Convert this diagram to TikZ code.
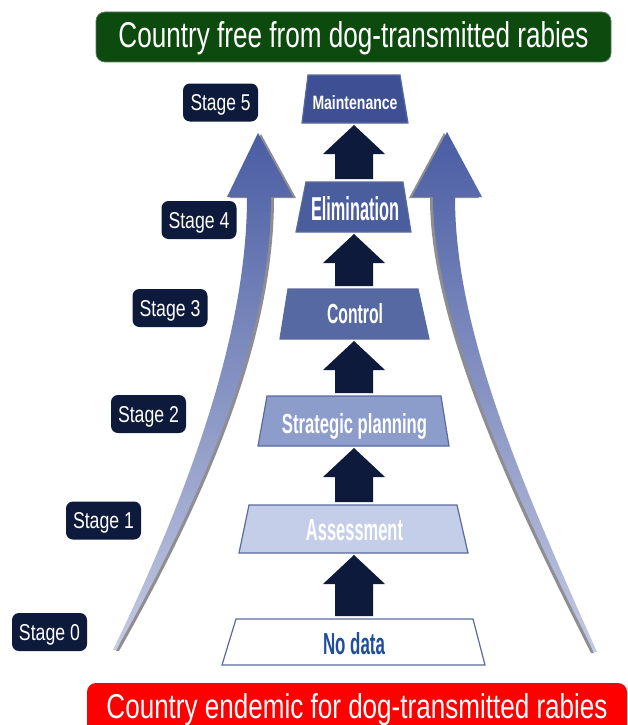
\documentclass[tikz,border=0pt]{standalone}
\usepackage{fontspec}
\setmainfont{Liberation Sans}
\usepackage{graphicx}
\usetikzlibrary{calc}
\definecolor{bgreen}{HTML}{0D4A0E}
\definecolor{bgreenedge}{HTML}{5E7F5E}
\definecolor{bred}{HTML}{FF0000}
\definecolor{navy}{HTML}{0E1A3B}
\definecolor{tmaint}{HTML}{3E4F93}
\definecolor{telim}{HTML}{4A5D9C}
\definecolor{tcont}{HTML}{5769A2}
\definecolor{tstrat}{HTML}{8D9DCB}
\definecolor{tassess}{HTML}{C5CEE8}
\definecolor{tborder}{HTML}{5B6A9E}
\definecolor{ndtext}{HTML}{1F4E9C}
\definecolor{arrtop}{HTML}{4A5DA3}
\definecolor{arrmid}{HTML}{6878B6}
\definecolor{arrbot}{HTML}{C4CAE2}
\definecolor{arrshadow}{HTML}{8E8E92}

\newcommand{\fitto}[3]{\resizebox{#1}{#2}{#3}}
\newcommand{\leftcurve}{(113,650) .. controls (200,470) and (247,320) .. (247,197) -- (227,197) -- (258,133) -- (293,197) -- (271,197) .. controls (271,330) and (212,480) .. (116,650) -- cycle}
\newcommand{\rightcurve}{(594,652) .. controls (512,490) and (433,320) .. (433,197) -- (412,197) -- (447,132) -- (482,197) -- (455,197) .. controls (455,330) and (520,480) .. (597,652) -- cycle}
\newcommand{\blockarr}[2]{\fill[navy] let \p1=(#1), \p2=(#2) in (\x2-19pt,\y1+3pt) -- (\x2-19pt,\y2-31pt) -- (\x2-31pt,\y2-31pt) -- (\x2,\y2-2pt) -- (\x2+31pt,\y2-31pt) -- (\x2+19pt,\y2-31pt) -- (\x2+19pt,\y1+3pt) -- cycle;}

\begin{document}
\begin{tikzpicture}[x=1pt,y=-1pt,
  stagebox/.style={fill=navy, rounded corners=7pt, minimum width=75pt, minimum height=38pt, inner sep=0pt, text=white, text height=16pt, text depth=0pt},
  trap/.style={draw=tborder, line width=1.2pt, line join=miter},
  lbl/.style={inner sep=0pt, text=white, text depth=0pt, font=\bfseries},
]
\clip (0,0) rectangle (627,725);
\fill[white] (0,0) rectangle (627,725);

% banners
\node[fill=bgreen, draw=bgreenedge, line width=0.8pt, rounded corners=9pt, minimum width=515pt, minimum height=50pt, inner sep=0pt, text=white, text height=26pt, text depth=4pt] (free) at (353.5,37) {\fitto{470pt}{26pt}{Country free from dog-transmitted rabies}};
\node[fill=bred, rounded corners=9pt, minimum width=540pt, minimum height=52pt, inner sep=0pt, text=white, text height=25pt, text depth=7pt] (endemic) at (357,709) {\fitto{501pt}{25pt}{Country endemic for dog-transmitted rabies}};

% curved arrows
\begin{scope}[shift={(3,1)}]
\fill[arrshadow] \leftcurve;
\end{scope}
\shade[top color=arrtop, middle color=arrmid, bottom color=arrbot] \leftcurve;
\begin{scope}[shift={(-3,1)}]
\fill[arrshadow] \rightcurve;
\end{scope}
\shade[top color=arrtop, middle color=arrmid, bottom color=arrbot] \rightcurve;

% trapezoids
\draw[trap, fill=tmaint]  (308,75) -- (400,75) -- (408,123) -- (302,123) -- cycle;
\draw[trap, fill=telim]   (306,182) -- (403,182) -- (411,232) -- (296,232) -- cycle;
\draw[trap, fill=tcont]   (288,289) -- (418,289) -- (429,339) -- (280,339) -- cycle;
\draw[trap, fill=tstrat]  (267,396) -- (441,396) -- (449,446) -- (258,446) -- cycle;
\draw[trap, fill=tassess] (249,505) -- (457,505) -- (468,553) -- (239,553) -- cycle;
\draw[trap, fill=white]   (236,619) -- (473,619) -- (485,665) -- (222,665) -- cycle;

\coordinate (ma-b) at (354,123);
\coordinate (el-t) at (354,182);
\coordinate (el-b) at (354,232);
\coordinate (co-t) at (354,289);
\coordinate (co-b) at (354,339);
\coordinate (sp-t) at (354,396);
\coordinate (sp-b) at (354,446);
\coordinate (as-t) at (354,505);
\coordinate (as-b) at (354,553);
\coordinate (nd-t) at (354,619);

\node[lbl, text height=14pt] (lma) at (355,102) {\fitto{85pt}{14pt}{Maintenance}};
\node[lbl, text height=24pt] (lel) at (355,208) {\fitto{88pt}{24pt}{Elimination}};
\node[lbl, text height=20pt] (lco) at (355,313) {\fitto{56pt}{20pt}{Control}};
\node[lbl, text height=20pt] (lsp) at (354.5,423) {\fitto{145pt}{20pt}{Strategic planning}};
\node[lbl, text height=21pt] (las) at (354.5,529.5) {\fitto{97pt}{21pt}{Assessment}};
\node[lbl, text height=22pt, text=ndtext] (lnd) at (354,643) {\fitto{62pt}{22pt}{No data}};

% block arrows
\blockarr{el-t}{ma-b}
\blockarr{co-t}{el-b}
\blockarr{sp-t}{co-b}
\blockarr{as-t}{sp-b}
\blockarr{nd-t}{as-b}

% stages
\node[stagebox] (s5) at (220.5,102.5) {\fitto{60pt}{16pt}{Stage 5}};
\node[stagebox] (s4) at (199,220) {\fitto{61pt}{16pt}{Stage 4}};
\node[stagebox] (s3) at (170,308) {\fitto{61pt}{16pt}{Stage 3}};
\node[stagebox] (s2) at (148.5,414) {\fitto{61pt}{16pt}{Stage 2}};
\node[stagebox] (s1) at (103.5,520.5) {\fitto{61pt}{16pt}{Stage 1}};
\node[stagebox] (s0) at (49.5,632) {\fitto{61pt}{16pt}{Stage 0}};
\end{tikzpicture}
\end{document}
